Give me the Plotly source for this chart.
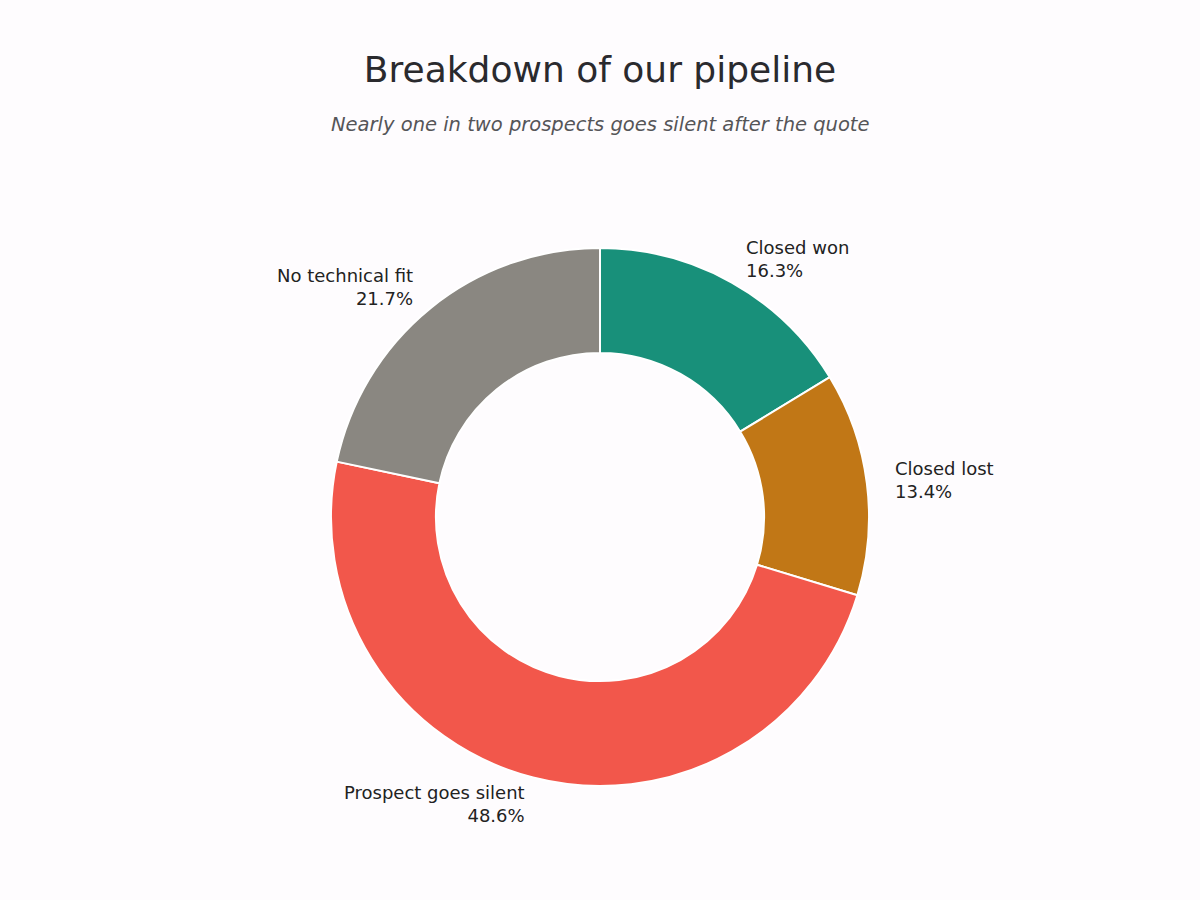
import math
import plotly.graph_objects as go

# pipeline stages, clockwise from the top
stages = ["Closed won", "Closed lost", "Prospect goes silent", "No technical fit"]
shares = [16.3, 13.4, 48.6, 21.7]
colors = ["#18907a", "#c17716", "#f2574b", "#8a8781"]

W, H = 1200, 900
cx, cy, r = 600, 517, 269  # donut centre / radius in px
dom_x = [(cx - r) / W, (cx + r) / W]
dom_y = [1 - (cy + r) / H, 1 - (cy - r) / H]

fig = go.Figure()
fig.add_trace(go.Pie(
    labels=stages,
    values=shares,
    sort=False,
    direction="clockwise",
    rotation=0,
    hole=0.61,
    marker=dict(colors=colors, line=dict(color="white", width=2)),
    textinfo="none",
    domain=dict(x=dom_x, y=dom_y),
    showlegend=False,
    hoverinfo="label+percent",
))

# labels outside the ring, at 1.1 x radius on each slice's mid angle
annotations = []
total = sum(shares)
start = 0
for name, val in zip(stages, shares):
    mid = (start + val / 2) / total * 2 * math.pi
    start += val
    dx = math.sin(mid) * 1.1 * r / W
    dy = math.cos(mid) * 1.1 * r / H
    side = "left" if dx > 0 else "right"
    annotations.append(dict(
        text=f"{name}<br>{val / total:.1%}",
        x=0.5 + dx, y=(dom_y[0] + dom_y[1]) / 2 + dy,
        xref="paper", yref="paper",
        xanchor=side, yanchor="middle", align=side,
        showarrow=False, borderpad=0,
        font=dict(size=18, color="#222222"),
    ))

annotations.append(dict(
    text="<i>Nearly one in two prospects goes silent after the quote</i>",
    x=0.5, xref="paper", xanchor="center",
    y=1 - 125 / H, yref="paper", yanchor="middle",
    showarrow=False,
    font=dict(size=19.5, color="#555558"),
))

fig.update_layout(
    width=W,
    height=H,
    margin=dict(l=0, r=0, t=0, b=0),
    paper_bgcolor="#fefcfe",
    plot_bgcolor="#fefcfe",
    font=dict(family="DejaVu Sans", color="#2a2a2e"),
    title=dict(
        text="Breakdown of our pipeline",
        x=0.5, xanchor="center",
        y=1 - 69 / H, yanchor="middle",
        font=dict(size=36, color="#2a2a2e"),
    ),
    annotations=annotations,
)

fig.write_html(
    "out.html",
    config={"displayModeBar": False},
    post_script="document.body.style.margin='0';",
)
